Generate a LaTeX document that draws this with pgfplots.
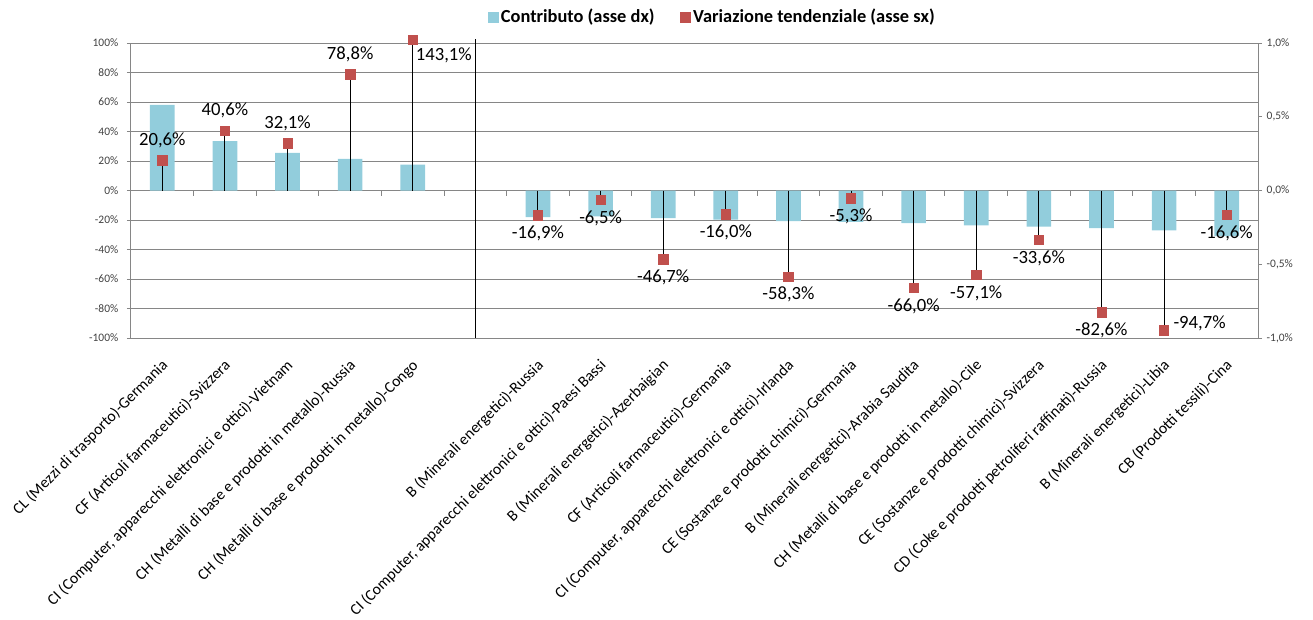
\documentclass[border=0pt]{standalone}
\usepackage{pgfplots}
\usepackage{pgfplotstable}
\pgfplotsset{compat=1.18}
\usepackage{fontspec}
\setmainfont{Carlito}

\definecolor{barblue}{HTML}{92CDDC}
\definecolor{markred}{HTML}{C0504D}
\definecolor{gridgray}{HTML}{868686}
\definecolor{ticktext}{HTML}{404040}

% contributo (asse dx), in punti percentuali
\pgfplotstableread{
x v
0 0.581
1 0.334
2 0.255
3 0.215
4 0.176
6 -0.181
7 -0.176
8 -0.188
9 -0.197
10 -0.207
11 -0.213
12 -0.221
13 -0.237
14 -0.245
15 -0.255
16 -0.271
17 -0.310
}\contrib

% variazione tendenziale (asse sx); dx, dy = spostamento etichetta in pt
\pgfplotstableread{
x v dx dy
0 20.6 0 11
1 40.6 0 11
2 32.1 0 11
3 78.8 0 11
4 143.1 23.3 -16
6 -16.9 0 -17.5
7 -6.5 0 -17.5
8 -46.7 0 -17.5
9 -16.0 0 -17.5
10 -58.3 0 -17.5
11 -5.3 0 -17.5
12 -66.0 0 -17.5
13 -57.1 0 -17.5
14 -33.6 0 -17.5
15 -82.6 0 -17.5
16 -94.7 26.6 1.3
17 -16.6 0 -17.5
}\variaz

\pgfplotsset{
  base/.style={
    scale only axis, width=845.25pt, height=221.25pt,
    at={(0,0)}, anchor=south west,
    xmin=-0.5, xmax=17.5, enlargelimits=false,
    /pgf/number format/assume math mode=true,
  },
  sqimg/.style={legend image code/.code={\fill[#1] (0pt,-3.75pt) rectangle (7.5pt,3.75pt);}},
}

\begin{document}
\begin{tikzpicture}
\path[use as bounding box] (-98.25pt,-210.75pt) rectangle (886.5pt,253.5pt);

% griglia, asse sx, etichette categorie
\begin{axis}[base,
  ymin=-100, ymax=100, ytick={-100,-80,...,100},
  ymajorgrids, grid style={gridgray, line width=0.75pt},
  axis y line*=left, axis x line*=bottom,
  x axis line style={draw=none},
  y axis line style={gridgray, line width=0.75pt},
  tick align=outside, major tick length=3pt,
  ytick style={gridgray, line width=0.75pt},
  xtick={0,...,17}, xtick style={draw=none},
  xticklabels={
    CL (Mezzi di trasporto)-Germania,
    CF (Articoli farmaceutici)-Svizzera,
    {CI (Computer, apparecchi elettronici e ottici)-Vietnam},
    CH (Metalli di base e prodotti in metallo)-Russia,
    CH (Metalli di base e prodotti in metallo)-Congo,
    {},
    B (Minerali energetici)-Russia,
    {CI (Computer, apparecchi elettronici e ottici)-Paesi Bassi},
    B (Minerali energetici)-Azerbaigian,
    CF (Articoli farmaceutici)-Germania,
    {CI (Computer, apparecchi elettronici e ottici)-Irlanda},
    CE (Sostanze e prodotti chimici)-Germania,
    B (Minerali energetici)-Arabia Saudita,
    CH (Metalli di base e prodotti in metallo)-Cile,
    CE (Sostanze e prodotti chimici)-Svizzera,
    CD (Coke e prodotti petroliferi raffinati)-Russia,
    B (Minerali energetici)-Libia,
    CB (Prodotti tessili)-Cina},
  xticklabel style={xshift=-1.5pt, yshift=-11.7pt, rotate=45, anchor=north east,
    inner sep=0pt, font=\fontsize{11.8}{13}\selectfont},
  yticklabel={\pgfmathprintnumber{\tick}\%},
  yticklabel style={font=\fontsize{8.6}{10}\selectfont, text=ticktext, xshift=-3pt},
]
\pgfplotsinvokeforeach{-0.5,0.5,...,17.5}{
  \draw[gridgray, line width=0.75pt] (axis cs:#1,0) -- ++(0pt,-3.75pt);
}
\end{axis}

% barre, asse dx
\begin{axis}[base,
  ymin=-1, ymax=1, ytick={-1,-0.5,0,0.5,1},
  axis y line*=right, axis x line=none,
  y axis line style={gridgray, line width=0.75pt},
  tick align=outside, major tick length=3pt,
  ytick style={gridgray, line width=0.75pt},
  yticklabel={\pgfmathprintnumber[fixed,fixed zerofill,precision=1,use comma]{\tick}\%},
  yticklabel style={font=\fontsize{8.6}{10}\selectfont, text=ticktext},
]
\addplot[ybar, bar width=0.394, fill=barblue, draw=none] table[x=x, y=v] {\contrib};
\end{axis}

% aste, marcatori, etichette, legenda
\begin{axis}[base,
  ymin=-100, ymax=100, hide axis, clip=false,
  legend style={draw=none, fill=none, at={(0.516,1.088)}, anchor=center,
    legend columns=2, font=\bfseries\fontsize{13.8}{16}\selectfont,
    /tikz/every even column/.append style={column sep=17pt}},
]
\addlegendimage{sqimg=barblue}
\addlegendentry{Contributo (asse dx)}
\addplot[black, line width=0.75pt, forget plot] coordinates {(5,-100) (5,102.4)};
\addplot[ycomb, black, line width=0.75pt, forget plot]
  table[x=x, y expr={min(\thisrow{v},102.4)}] {\variaz};
\addplot[only marks, mark=square*, mark size=3.5pt, color=markred, sqimg=markred,
  point meta=\thisrow{v},
  visualization depends on={\thisrow{dx} \as \dx},
  visualization depends on={\thisrow{dy} \as \dy},
  nodes near coords={\pgfmathprintnumber[fixed,fixed zerofill,precision=1,use comma]{\pgfplotspointmeta}\%},
  nodes near coords style={anchor=base, inner sep=0pt, xshift=\dx pt, yshift=\dy pt,
    text=black, font=\fontsize{14}{16}\selectfont},
] table[x=x, y expr={min(\thisrow{v},102.4)}] {\variaz};
\addlegendentry{Variazione tendenziale (asse sx)}
\end{axis}
\end{tikzpicture}
\end{document}
